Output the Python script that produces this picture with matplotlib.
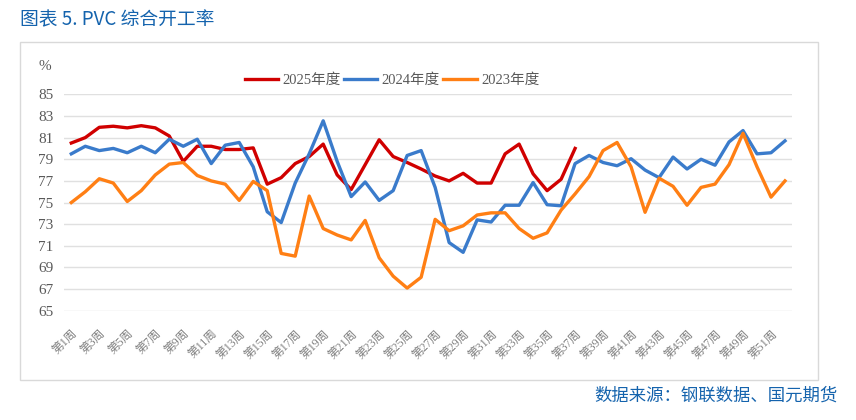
import matplotlib
matplotlib.use('Agg')
import matplotlib.pyplot as plt
from matplotlib.patches import Rectangle
import numpy as np

plt.rcParams['font.family'] = ['Liberation Serif', 'Noto Sans CJK SC', 'DejaVu Sans']

weeks = ['第%d周' % i for i in range(1, 53)]

y2025 = [80.5, 81.0, 81.95, 82.05, 81.9, 82.1, 81.9, 81.15, 78.8, 80.2,
         80.2, 79.9, 79.9, 80.05, 76.7, 77.3, 78.6, 79.25, 80.4, 77.55,
         76.2, 78.5, 80.8, 79.25, 78.7, 78.1, 77.45, 77.0, 77.7, 76.8,
         76.8, 79.5, 80.4, 77.65, 76.1, 77.15, 80.0]

y2024 = [79.5, 80.2, 79.8, 80.0, 79.6, 80.2, 79.6, 80.85, 80.2, 80.85,
         78.6, 80.3, 80.55, 78.3, 74.15, 73.15, 76.8, 79.5, 82.55, 78.8,
         75.55, 76.9, 75.2, 76.1, 79.35, 79.8, 76.4, 71.3, 70.4, 73.4,
         73.2, 74.75, 74.75, 76.85, 74.8, 74.7, 78.6, 79.35, 78.7, 78.4,
         79.05, 78.0, 77.3, 79.2, 78.1, 79.0, 78.45, 80.6, 81.65, 79.5,
         79.6, 80.7]

y2023 = [75.0, 76.0, 77.2, 76.8, 75.1, 76.1, 77.55, 78.55, 78.7, 77.5,
         77.0, 76.7, 75.2, 76.95, 76.1, 70.3, 70.05, 75.6, 72.6, 72.0,
         71.55, 73.35, 69.9, 68.2, 67.1, 68.1, 73.45, 72.4, 72.85, 73.85,
         74.05, 74.05, 72.6, 71.7, 72.2, 74.3, 75.8, 77.4, 79.8, 80.55,
         78.3, 74.1, 77.25, 76.5, 74.75, 76.4, 76.7, 78.5, 81.4, 78.3,
         75.5, 77.0]

yticks = list(range(65, 86, 2))

W, H = 856, 420
fig = plt.figure(figsize=(W / 100, H / 100), dpi=100)

# outer frame of the chart
fig.patches.append(Rectangle((20 / W, 1 - 380 / H), 798 / W, 338 / H,
                             transform=fig.transFigure, fill=False,
                             edgecolor='#d9d9d9', linewidth=1.0))

ax = fig.add_axes([64.3 / W, 1 - 310.8 / H, (792 - 64.3) / W, (310.8 - 94.3) / H])

x = np.arange(len(weeks))
ax.plot(x[:len(y2025)], y2025, color='#d00000', lw=2.4, label='2025年度', zorder=3)
ax.plot(x[:len(y2024)], y2024, color='#3a7bcb', lw=2.4, label='2024年度', zorder=4)
ax.plot(x[:len(y2023)], y2023, color='#ff7f14', lw=2.4, label='2023年度', zorder=5)

ax.set_xlim(-0.5, len(weeks) - 0.5)
ax.set_ylim(65, 85)
ax.set_yticks(yticks)
ax.set_yticklabels([str(v) for v in yticks], fontsize=11, color='#595959')
ax.set_xticks(x[::2])
ax.set_xticklabels(weeks[::2], rotation=45, ha='right', va='top',
                   rotation_mode='anchor', fontsize=8.5, color='#808080')
ax.tick_params(axis='both', length=0)
ax.tick_params(axis='y', pad=8)
ax.tick_params(axis='x', pad=12)
ax.grid(axis='y', color='#e0e0e0', lw=1.0, zorder=0)
for s in ax.spines.values():
    s.set_visible(False)

fig.text(45 / W, 1 - 67 / H, '%', fontsize=11, color='#595959', ha='center', va='center')

fig.legend(loc='center', bbox_to_anchor=(392 / W, 1 - 80 / H), ncol=3, frameon=False,
           fontsize=10.5, handlelength=2.3, handletextpad=0.3, columnspacing=0.2,
           labelcolor='#595959')

fig.text(20 / W, 1 - 20 / H, '图表 5. PVC 综合开工率', fontsize=13.5, color='#1463ad',
         ha='left', va='center', family=['Noto Sans CJK SC', 'DejaVu Sans'])
fig.text(838 / W, 1 - 396 / H, '数据来源：钢联数据、国元期货', fontsize=12.5, color='#1463ad',
         ha='right', va='center', family=['Noto Sans CJK SC', 'DejaVu Sans'])

fig.savefig('out.png', dpi=100)
